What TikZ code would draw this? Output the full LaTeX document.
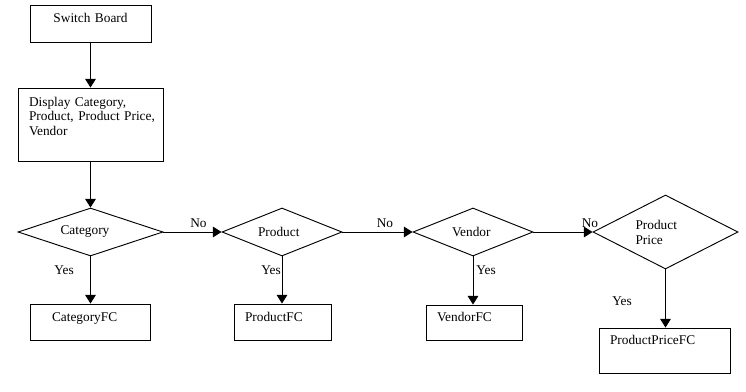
\documentclass[tikz,border=0pt]{standalone}
\usepackage{fontspec}
\setmainfont{Liberation Serif}
\usepackage{tikz}
\usetikzlibrary{arrows.meta, shapes.geometric}

\begin{document}
\begin{tikzpicture}[
  x=0.75pt, y=-0.75pt,
  font=\fontsize{10}{11.2}\selectfont,
  box/.style={rectangle, draw=black, line width=0.7pt, align=left,
              inner xsep=8.25pt, inner ysep=0pt, text depth=8pt},
  dec/.style={diamond, draw=black, line width=0.7pt, align=left,
              inner sep=0pt, aspect=3},
  lbl/.style={anchor=base, inner sep=0pt},
  arr/.style={-{Triangle[length=6.5pt, width=8pt]}, line width=0.7pt, black}
]
\useasboundingbox (0,0) rectangle (746,392);
%% Top boxes
\node[box, align=center, text width=74.25pt, minimum width=90.75pt, minimum height=27.75pt]
  (sb) at (90.5, 23.5) {Switch Board};
\node[box, text width=92.25pt, text depth=34.6pt, minimum width=108.75pt, minimum height=54.75pt]
  (disp) at (90.5, 124.5) {\mbox{Display Category,}\\\mbox{Product, Product Price,}\\Vendor};
%% Decisions
\node[dec, text width=45pt, minimum width=108.75pt, minimum height=36pt]
  (cat) at (90.5, 232) {Category};
\node[dec, text width=36pt, minimum width=90pt, minimum height=36pt]
  (prod) at (282, 232) {Product};
\node[dec, text width=31.5pt, minimum width=90pt, minimum height=36pt]
  (vend) at (473, 232) {Vendor};
\node[dec, text width=45pt, minimum width=108.75pt, minimum height=55.5pt]
  (pp) at (665.5, 232) {Product\\Price};
%% Result boxes
\node[box, inner xsep=16.5pt, text width=57pt, minimum width=90pt, minimum height=27pt]
  (catfc) at (90, 322) {CategoryFC};
\node[box, text width=56.25pt, minimum width=72.75pt, minimum height=27pt]
  (prodfc) at (282.5, 322) {ProductFC};
\node[box, text width=55.5pt, minimum width=72pt, minimum height=26.25pt]
  (vendfc) at (474, 322.5) {VendorFC};
\node[box, text width=81.75pt, text depth=16.6pt, minimum width=98.25pt, minimum height=33.75pt]
  (ppfc) at (664.5, 350.5) {ProductPriceFC};
%% Yes / No labels
\node[lbl] (no1) at (198.5, 228) {No};
\node[lbl] (no2) at (385, 228) {No};
\node[lbl] (no3) at (590, 228) {No};
\node[lbl] (yes1) at (64, 274) {Yes};
\node[lbl] (yes2) at (271, 274) {Yes};
\node[lbl] (yes3) at (486, 274) {Yes};
\node[lbl] (yes4) at (622, 305) {Yes};
%% Arrows
\draw[arr] (sb.south) -- (disp.north);
\draw[arr] (disp.south) -- (cat.north);
\draw[arr] (cat.east) -- (prod.west);
\draw[arr] (prod.east) -- (vend.west);
\draw[arr] (vend.east) -- (pp.west);
\draw[arr] (cat.south) -- (cat.south |- catfc.north);
\draw[arr] (prod.south) -- (prod.south |- prodfc.north);
\draw[arr] (vend.south) -- (vend.south |- vendfc.north);
\draw[arr] (pp.south) -- (pp.south |- ppfc.north);
\end{tikzpicture}
\end{document}
